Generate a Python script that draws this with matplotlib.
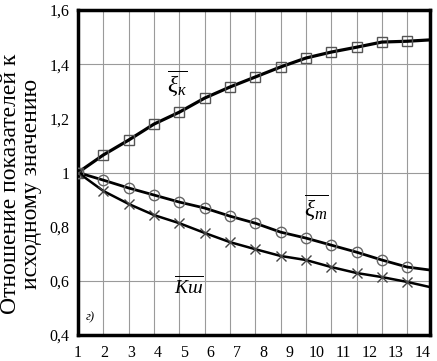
import numpy as np
import matplotlib.pyplot as plt

plt.rcParams['font.family'] = ['Liberation Serif', 'DejaVu Serif']
plt.rcParams['mathtext.fontset'] = 'custom'
plt.rcParams['mathtext.rm'] = 'Liberation Serif'
plt.rcParams['mathtext.it'] = 'Liberation Serif:italic'

# data
x = [1, 2, 3, 4, 5, 6, 7, 8, 9, 10, 11, 12, 13, 14, 14.9]
xi_k = [1.0, 1.065, 1.12, 1.179, 1.223, 1.275, 1.316, 1.353, 1.39, 1.423,
        1.445, 1.463, 1.482, 1.485, 1.49]
xi_m = [1.0, 0.972, 0.943, 0.917, 0.891, 0.869, 0.839, 0.813, 0.78, 0.758,
        0.732, 0.706, 0.677, 0.651, 0.64]
k_sh = [1.0, 0.932, 0.884, 0.843, 0.813, 0.777, 0.743, 0.717, 0.692, 0.677,
        0.651, 0.629, 0.614, 0.596, 0.577]

x_labels = [str(i) for i in range(1, 15)]
y_ticks = [0.4, 0.6, 0.8, 1.0, 1.2, 1.4, 1.6]
y_labels = ['0,4', '0,6', '0,8', '1', '1,2', '1,4', '1,6']

fig = plt.figure(figsize=(4.37, 3.61), dpi=100)
ax = fig.add_axes([0.1785, 0.072, 0.8055, 0.900])

ax.set_xlim(1, 14.9)
ax.set_ylim(0.4, 1.6)

# grid: vertical at each step, horizontal every 0.4
ax.set_xticks(range(2, 15), minor=True)
ax.grid(which='minor', axis='x', color='#9a9a9a', lw=0.8)
for yv in [0.6, 1.0, 1.4]:
    ax.axhline(yv, color='#9a9a9a', lw=0.8, zorder=1)

mk = slice(0, 14)
ax.plot(x, xi_k, color='black', lw=2.3, marker='s', ms=7, mfc='none',
        mec='#555555', mew=1.0, markevery=mk, zorder=3)
ax.plot(x, xi_m, color='black', lw=2.0, marker='o', ms=7.5, mfc='none',
        mec='#666666', mew=1.0, markevery=mk, zorder=3)
ax.plot(x, k_sh, color='black', lw=1.8, marker='x', ms=7, mec='#444444',
        mew=1.0, markevery=mk, zorder=3)

ax.set_xticks(np.linspace(1, 14.6, 14), x_labels)
ax.set_yticks(y_ticks, y_labels)
ax.tick_params(which='both', length=0, labelsize=11.5)
ax.tick_params(axis='x', pad=7)
ax.tick_params(axis='y', pad=6)

for s in ax.spines.values():
    s.set_linewidth(2.5)

ax.text(4.9, 1.33, r'$\overline{\xi_{к}}$', fontsize=17, ha='center', va='center')
ax.text(10.4, 0.87, r'$\overline{\xi_{m}}$', fontsize=17, ha='center', va='center')
ax.text(5.4, 0.58, r'$\overline{K ш}$', fontsize=14, ha='center', va='center')
ax.text(1.47, 0.466, 'г)', fontsize=9, style='italic', ha='center', va='center')

fig.text(0.048, 0.49, 'Отношение показателей к\nисходному значению',
         rotation=90, ha='center', va='center', fontsize=17, linespacing=1.0)

fig.savefig('out.png', dpi=100)
